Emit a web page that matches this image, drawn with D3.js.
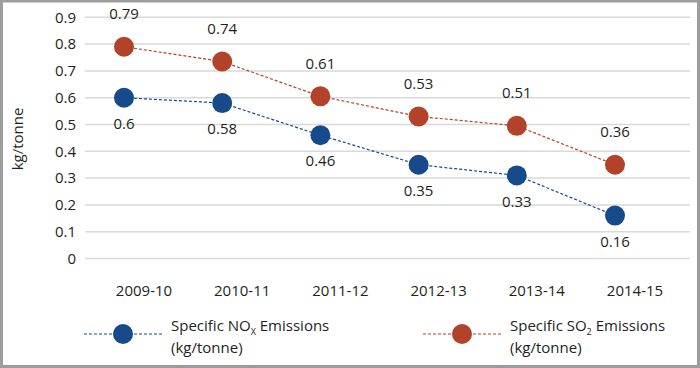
<!DOCTYPE html>
<html>
<head>
<meta charset="utf-8">
<script src="https://cdn.jsdelivr.net/npm/d3@7"></script>
<style>
  body { margin: 0; background: #fff; }
  text { font-family: "Open Sans", sans-serif; fill: #231f20; }
</style>
</head>
<body>
<div id="chart"></div>
<script>
// data
var years = ["2009-10", "2010-11", "2011-12", "2012-13", "2013-14", "2014-15"];
var noxValues = [0.6, 0.58, 0.46, 0.35, 0.31, 0.16];
var noxLabels = ["0.6", "0.58", "0.46", "0.35", "0.33", "0.16"];
var so2Values = [0.79, 0.735, 0.605, 0.53, 0.495, 0.35];
var so2Labels = ["0.79", "0.74", "0.61", "0.53", "0.51", "0.36"];
var yTicks = [0, 0.1, 0.2, 0.3, 0.4, 0.5, 0.6, 0.7, 0.8, 0.9];

var W = 700, H = 368;
var blue = "#174a8b", red = "#b2432a";
var fs = 15;

var svg = d3.select("#chart").append("svg")
    .attr("width", W)
    .attr("height", H);

// outer frame
svg.append("rect")
    .attr("x", 1.5).attr("y", 1)
    .attr("width", W - 3).attr("height", H - 2.5)
    .attr("fill", "none")
    .attr("stroke", "#9d9d9d")
    .attr("stroke-width", 3);

var x = d3.scalePoint().domain(years).range([124, 615]);
var y = d3.scaleLinear().domain([0, 0.9]).range([258.5, 17.3]);

// gridlines
svg.append("g").selectAll("line")
    .data(yTicks)
    .enter().append("line")
    .attr("x1", 85).attr("x2", 690)
    .attr("y1", function(d) { return y(d); })
    .attr("y2", function(d) { return y(d); })
    .attr("stroke", "#d9d9d9")
    .attr("stroke-width", 1.5);

// y tick labels
svg.append("g").selectAll("text")
    .data(yTicks)
    .enter().append("text")
    .attr("x", 76)
    .attr("y", function(d) { return y(d); })
    .attr("dy", "0.35em")
    .attr("text-anchor", "end")
    .attr("font-size", fs)
    .text(function(d) { return d3.format("")(+d.toFixed(1)); });

// x category labels (sit a little right of the markers in the original)
svg.append("g").selectAll("text")
    .data(years)
    .enter().append("text")
    .attr("x", function(d) { return x(d) + 20; })
    .attr("y", 291)
    .attr("dy", "0.35em")
    .attr("text-anchor", "middle")
    .attr("font-size", fs)
    .text(function(d) { return d; });

// y axis title
svg.append("text")
    .attr("transform", "translate(23,139) rotate(-90)")
    .attr("text-anchor", "middle")
    .attr("font-size", fs)
    .text("kg/tonne");

var line = d3.line()
    .x(function(d, i) { return x(years[i]); })
    .y(function(d) { return y(d); });

function drawSeries(values, labels, color, labelOffset) {
    var g = svg.append("g");
    g.append("path")
        .attr("d", line(values))
        .attr("fill", "none")
        .attr("stroke", color)
        .attr("stroke-width", 1.2)
        .attr("stroke-dasharray", "3,2");
    g.selectAll("circle")
        .data(values)
        .enter().append("circle")
        .attr("cx", function(d, i) { return x(years[i]); })
        .attr("cy", function(d) { return y(d); })
        .attr("r", 10)
        .attr("fill", color);
    g.selectAll("text")
        .data(values)
        .enter().append("text")
        .attr("x", function(d, i) { return x(years[i]); })
        .attr("y", function(d) { return y(d) + labelOffset; })
        .attr("dy", "0.35em")
        .attr("text-anchor", "middle")
        .attr("font-size", fs)
        .text(function(d, i) { return labels[i]; });
}

drawSeries(noxValues, noxLabels, blue, 26);
drawSeries(so2Values, so2Labels, red, -33);

// legend
var legend = [
    { color: blue, x0: 84, name: "Specific NO", sub: "X" },
    { color: red, x0: 423, name: "Specific SO", sub: "2" }
];

legend.forEach(function(l) {
    var lg = svg.append("g").attr("transform", "translate(" + l.x0 + ",334)");
    lg.append("line")
        .attr("x1", 0).attr("x2", 78)
        .attr("stroke", l.color)
        .attr("stroke-width", 1.2)
        .attr("stroke-dasharray", "3,2");
    lg.append("circle")
        .attr("cx", 39).attr("r", 10)
        .attr("fill", l.color);
    var t = lg.append("text")
        .attr("x", 87).attr("y", -8)
        .attr("dy", "0.35em")
        .attr("font-size", fs);
    t.append("tspan").text(l.name);
    t.append("tspan").attr("font-size", 9).attr("dy", 4).text(l.sub);
    t.append("tspan").attr("dy", -4).text(" Emissions");
    lg.append("text")
        .attr("x", 87).attr("y", 14)
        .attr("dy", "0.35em")
        .attr("font-size", fs)
        .text("(kg/tonne)");
});
</script>
</body>
</html>
